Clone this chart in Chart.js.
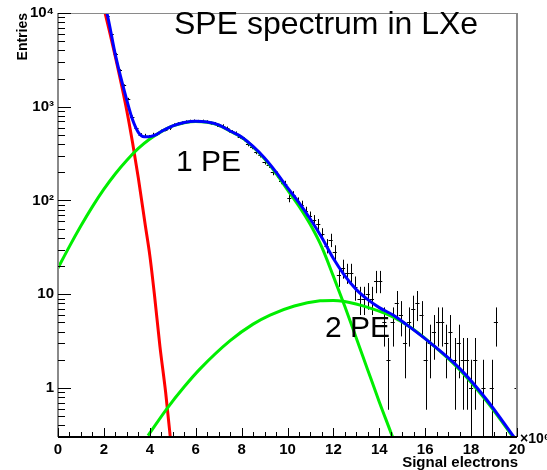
<!DOCTYPE html>
<html>
<head>
<meta charset="utf-8">
<script src="https://cdn.jsdelivr.net/npm/chart.js@4.4.1/dist/chart.umd.min.js"></script>
<style>
  html, body { margin: 0; padding: 0; background: #fff; }
  #wrap { width: 547px; height: 470px; }
</style>
</head>
<body>
<div id="wrap"><canvas id="myChart" width="547" height="470"></canvas></div>
<script>
// 히스토그램 (bin 중심, 카운트)
const binCentres = [
  1.98, 2.16, 2.34, 2.52, 2.70, 2.88, 3.06, 3.24, 3.42, 3.60,
  3.78, 3.96, 4.14, 4.32, 4.50, 4.68, 4.86, 5.04, 5.22, 5.40,
  5.58, 5.76, 5.94, 6.12, 6.30, 6.48, 6.66, 6.84, 7.02, 7.20,
  7.38, 7.56, 7.74, 7.92, 8.10, 8.28, 8.46, 8.64, 8.82, 9.00,
  9.18, 9.36, 9.54, 9.72, 9.90, 10.08, 10.26, 10.44, 10.62, 10.80,
  10.98, 11.16, 11.34, 11.52, 11.70, 11.88, 12.06, 12.24, 12.42, 12.60,
  12.78, 12.96, 13.14, 13.32, 13.50, 13.68, 13.86, 14.04, 14.22, 14.40,
  14.58, 14.76, 14.94, 15.12, 15.30, 15.48, 15.66, 15.84, 16.02, 16.20,
  16.38, 16.56, 16.74, 16.92, 17.10, 17.28, 17.46, 17.64, 17.82, 18.00,
  18.18, 18.36, 18.54, 18.72, 18.90, 19.08, 19.26, 19.44, 19.62, 19.80,
  19.98
];
const counts = [
  13800, 9300, 5900, 3680, 2460, 1690, 1210, 780, 590, 500,
  492, 478, 505, 515, 548, 570, 590, 640, 660, 672,
  690, 701, 705, 698, 702, 690, 668, 662, 630, 625,
  590, 540, 522, 478, 450, 398, 372, 330, 305, 258,
  238, 200, 190, 162, 150, 106, 115, 98, 90, 77,
  68, 62, 56, 44, 33, 38, 28, 16, 19, 17,
  17, 12, 9, 9, 10, 9, 14, 14, 5, 2,
  5, 8, 6, 3, 5, 7, 8, 6, 2, 3,
  4, 5, 5, 3, 4, 2, 3, 2, 2, 1,
  2, 0, 1, 0, 1, 5, 0, 0, 0, 0,
  1
];
const binWidth = 0.18;

// 노이즈 (빨강)
const noiseX = [1.6, 2.05, 2.5, 3.0, 3.25, 3.5, 3.8, 4.0, 4.2, 4.44, 4.69, 4.88, 5.0];
const noiseY = [26300, 10000, 3390, 902, 412, 174, 55, 26, 10, 2.8, 0.9, 0.32, 0.16];

// 1 PE (초록)
const onePeX = [0, 0.5, 1.0, 1.5, 2.0, 2.5, 3.0, 3.5, 4.0, 4.5, 5.0, 5.5, 6.0, 6.5, 7.0,
  7.5, 8.0, 8.5, 9.0, 9.5, 10.0, 10.5, 11.0, 11.5, 12.0, 12.5, 13.0, 13.5, 14.0, 14.6, 14.9];
const onePeY = [19, 32.4, 53.7, 86, 132, 193, 269, 359, 452, 543, 624, 676, 698, 684, 637,
  548, 472, 372, 278, 195, 130, 87, 55, 31.6, 15.5, 7.4, 3.4, 1.55, 0.71, 0.29, 0.18];

// 2 PE (초록)
const twoPeX = [3.92, 4.74, 5.5, 6.19, 7.5, 8.5, 9.24, 10.3, 11.42, 12.0, 12.43, 13.6,
  14.61, 15.26, 16.21, 17.52, 18.68, 19.91, 20.1];
const twoPeY = [0.31, 0.6, 1.03, 1.6, 3.2, 4.8, 6.0, 7.5, 8.5, 8.6, 8.4, 7.1,
  5.7, 4.6, 3.05, 1.55, 0.72, 0.28, 0.24];

// 전체 fit (파랑)
const fitX = [1.7, 2.13, 2.5, 3.0, 3.25, 3.5, 3.75, 4.0, 4.25, 4.5, 5.0, 5.5, 6.0, 6.5,
  7.0, 7.5, 8.0, 8.5, 9.0, 9.5, 10.0, 10.5, 11.0, 11.5, 12.0, 12.5, 13.0, 13.5, 14.0,
  14.6, 15.26, 16.21, 17.52, 18.68, 19.91, 20.05];
const fitY = [21000, 10000, 3580, 1170, 725, 533, 478, 480, 500, 545, 626, 678, 700, 686,
  640, 551, 476, 377, 284, 201, 137, 95, 63, 40, 24, 15.7, 11.2, 8.75, 7.2,
  6.0, 4.6, 3.05, 1.6, 0.75, 0.29, 0.26];

// 축 눈금 라벨
const yDecades = [1, 10, 100, 1000, 10000];
const yDecadeLabels = ["1", "10", "10\u00B2", "10\u00B3", "10\u2074"];

const FONT = "'Liberation Sans', Arial, Helvetica, sans-serif";
Chart.defaults.font.family = FONT;

function toXY(xs, ys) {
  return xs.map(function (x, i) { return { x: x, y: ys[i] }; });
}

function curve(data, color) {
  return {
    data: data,
    showLine: true,
    borderColor: color,
    borderWidth: 3,
    pointRadius: 0,
    fill: false,
    cubicInterpolationMode: "monotone",
    clip: 0,
  };
}

// 에러바 + 프레임 + 텍스트
const rootStyle = {
  id: "rootStyle",
  beforeDatasetsDraw(chart) {
    const { ctx, chartArea: a, scales: { x, y } } = chart;
    ctx.save();
    ctx.beginPath();
    ctx.rect(a.left, a.top, a.right - a.left, a.bottom - a.top);
    ctx.clip();
    ctx.strokeStyle = "#000";
    ctx.lineWidth = 1;
    for (let i = 0; i < binCentres.length; i++) {
      const n = counts[i];
      if (n <= 0) continue;
      const err = Math.sqrt(n);
      const px = Math.round(x.getPixelForValue(binCentres[i])) + 0.5;
      const py = Math.round(y.getPixelForValue(n)) + 0.5;
      const pHi = y.getPixelForValue(n + err);
      const pLo = n - err > 0 ? y.getPixelForValue(n - err) : a.bottom;
      ctx.beginPath();
      ctx.moveTo(px, pHi);
      ctx.lineTo(px, pLo);
      ctx.moveTo(x.getPixelForValue(binCentres[i] - binWidth / 2), py);
      ctx.lineTo(x.getPixelForValue(binCentres[i] + binWidth / 2), py);
      ctx.stroke();
    }
    ctx.restore();
  },
  afterDatasetsDraw(chart) {
    const { ctx, chartArea: a, scales: { x, y } } = chart;
    ctx.save();
    // 프레임
    ctx.strokeStyle = "#8a8a8a";
    ctx.lineWidth = 1;
    ctx.beginPath();
    ctx.moveTo(a.left, a.top + 0.5);
    ctx.lineTo(a.right, a.top + 0.5);
    ctx.stroke();
    ctx.lineWidth = 2;
    ctx.beginPath();
    ctx.moveTo(a.right, a.top);
    ctx.lineTo(a.right, a.bottom);
    ctx.moveTo(a.left, a.top);
    ctx.lineTo(a.left, a.bottom);
    ctx.stroke();
    ctx.strokeStyle = "#000";
    ctx.beginPath();
    ctx.moveTo(a.left, a.bottom);
    ctx.lineTo(a.right, a.bottom);
    ctx.stroke();

    // y 눈금 (안쪽)
    ctx.lineWidth = 1;
    ctx.strokeStyle = "#000";
    ctx.beginPath();
    for (let d = 0.1; d <= 10000; d *= 10) {
      for (let k = 1; k <= 9; k++) {
        const v = k * d;
        if (v < y.min * 0.999 || v > y.max * 1.001) continue;
        const py = Math.round(y.getPixelForValue(v)) + 0.5;
        const len = k === 1 ? 13 : 7;
        ctx.moveTo(a.left, py);
        ctx.lineTo(a.left + len, py);
      }
    }
    // x 눈금 (안쪽)
    x.ticks.forEach(function (t) {
      const px = Math.round(x.getPixelForValue(t.value)) + 0.5;
      const len = Math.abs(t.value % 2) < 1e-6 ? 9 : 5;
      ctx.moveTo(px, a.bottom);
      ctx.lineTo(px, a.bottom - len);
    });
    ctx.stroke();
    ctx.restore();
  },
  afterDraw(chart) {
    const { ctx, chartArea: a, scales: { x, y } } = chart;
    ctx.save();
    ctx.fillStyle = "#000";
    ctx.textBaseline = "alphabetic";

    ctx.font = "32px " + FONT;
    ctx.textAlign = "left";
    ctx.fillText("SPE spectrum in LXe", 174, 34);

    ctx.font = "30px " + FONT;
    ctx.fillText("1 PE", x.getPixelForValue(5.14), y.getPixelForValue(208));
    ctx.fillText("2 PE", x.getPixelForValue(11.63), y.getPixelForValue(3.48));

    ctx.font = "bold 15px " + FONT;
    ctx.textAlign = "right";
    ctx.fillText("Signal electrons", a.right + 1, 467);

    ctx.font = "bold 14px " + FONT;
    ctx.textAlign = "left";
    ctx.fillText("\u00D710\u2076", a.right + 3, 443);

    ctx.translate(27, a.top);
    ctx.rotate(-Math.PI / 2);
    ctx.textAlign = "right";
    ctx.fillText("Entries", 0, 0);
    ctx.restore();
  },
};

const ctx = document.getElementById("myChart").getContext("2d");
const myChart = new Chart(ctx, {
  type: "scatter",
  data: {
    datasets: [
      curve(toXY(fitX, fitY), "#0000ff"),
      curve(toXY(twoPeX, twoPeY), "#00ee00"),
      curve(toXY(onePeX, onePeY), "#00ee00"),
      curve(toXY(noiseX, noiseY), "#ff0000"),
    ],
  },
  options: {
    responsive: false,
    animation: false,
    layout: { padding: { top: 13, right: 30, left: 0, bottom: 0 } },
    plugins: {
      legend: { display: false },
      tooltip: { enabled: false },
    },
    scales: {
      x: {
        type: "linear",
        min: 0,
        max: 20,
        grid: { display: false, drawTicks: false },
        border: { display: false },
        ticks: {
          stepSize: 0.5,
          autoSkip: false,
          maxRotation: 0,
          padding: 4,
          color: "#000",
          font: { size: 15, weight: "bold" },
          callback: function (value) {
            return Math.abs(value % 2) < 1e-6 ? String(value) : "";
          },
        },
        afterFit: function (scale) { scale.height = 33; },
      },
      y: {
        type: "logarithmic",
        min: 0.3,
        max: 10000,
        grid: { display: false, drawTicks: false },
        border: { display: false },
        ticks: {
          autoSkip: false,
          padding: 4,
          color: "#000",
          font: { size: 15, weight: "bold" },
          callback: function (value) {
            for (let i = 0; i < yDecades.length; i++) {
              if (Math.abs(value - yDecades[i]) < yDecades[i] * 1e-6) return yDecadeLabels[i];
            }
            return "";
          },
        },
        afterFit: function (scale) { scale.width = 58; },
      },
    },
  },
  plugins: [rootStyle],
});
</script>
</body>
</html>
